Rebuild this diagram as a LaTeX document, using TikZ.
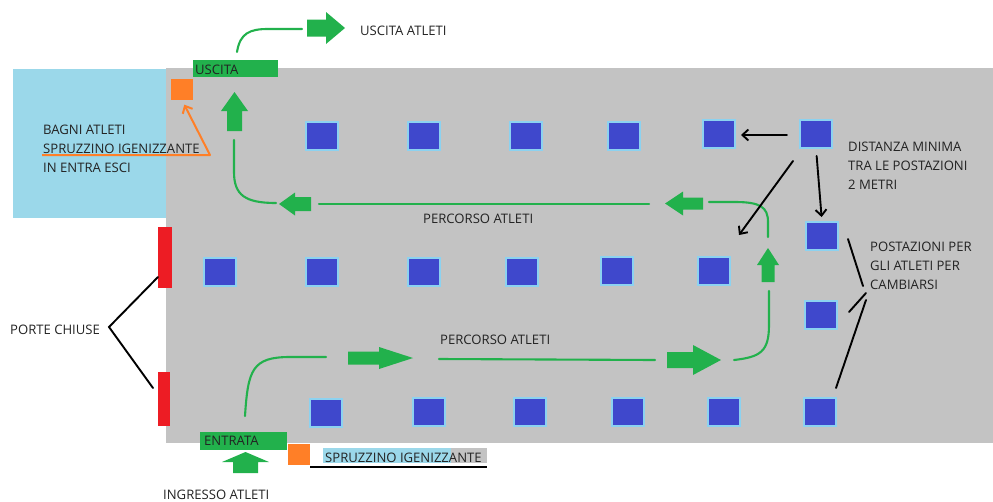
\documentclass[tikz,border=0pt]{standalone}
\usepackage{fontspec}
\setmainfont{Open Sans}
\usetikzlibrary{arrows.meta}
\definecolor{hall}{RGB}{195,195,195}
\definecolor{bath}{RGB}{155,216,234}
\definecolor{gr}{RGB}{34,177,76}
\definecolor{st}{RGB}{63,72,204}
\definecolor{stb}{RGB}{140,210,240}
\definecolor{rd}{RGB}{237,28,36}
\definecolor{og}{RGB}{255,127,39}
\definecolor{tx}{RGB}{35,35,35}
\tikzset{
  station/.style={fill=st,draw=stb,line width=2pt,minimum width=32pt,minimum height=28pt,inner sep=0,outer sep=0},
  lbl/.style={text=tx,font=\fontsize{13.1pt}{19pt}\selectfont,inner sep=0,align=left},
  path/.style={gr,line width=2.1pt,line cap=round},
  blk/.style={black,line width=1.9pt,line cap=round},
  blka/.style={blk,-{Straight Barb[length=6pt,width=11pt,line width=1.9pt]}},
}
% #1 name, #2 tail point, #3 rotation, #4 length, #5 tail width, #6 head width, #7 head length
\newcommand{\blockarrow}[7]{%
  \fill[gr,line join=round,shift={(#2)},rotate=#3]
    (0,-#5/2) -- (#4-#7,-#5/2) -- (#4-#7,-#6/2) -- (#4,0) -- (#4-#7,#6/2) -- (#4-#7,#5/2) -- (0,#5/2) -- cycle;
  \coordinate (#1) at (#2);}
\begin{document}
\begin{tikzpicture}[x=1pt,y=-1pt]
\useasboundingbox (0,0) rectangle (993,501);
% areas
\node[fill=bath,inner sep=0,minimum width=153pt,minimum height=149pt] (bath) at (89.5,143.5) {};
\node[fill=hall,inner sep=0,minimum width=827pt,minimum height=375pt] (hall) at (579.5,255.5) {};
\node[fill=rd,inner sep=0,minimum width=14pt,minimum height=61pt] (door1) at (165,257.5) {};
\node[fill=rd,inner sep=0,minimum width=12pt,minimum height=54pt] (door2) at (164,399) {};
\node[fill=gr,inner sep=0,minimum width=85pt,minimum height=17pt] (exitbar) at (235.5,68.5) {};
\node[fill=gr,inner sep=0,minimum width=87pt,minimum height=18pt] (inbar) at (243.5,441) {};
\node[fill=og,inner sep=0,minimum width=22pt,minimum height=21pt] (spray1) at (182,89.5) {};
\node[fill=og,inner sep=0,minimum width=22pt,minimum height=21pt] (spray2) at (299,454.5) {};
% spray label background
\node[fill=bath,inner sep=0,minimum width=128pt,minimum height=15pt] (sbg1) at (387,455.5) {};
\node[fill=hall,inner sep=0,minimum width=36pt,minimum height=15pt] (sbg2) at (469,455.5) {};
% stations
\foreach \n/\x/\y in {a1/322/136,a2/424/136,a3/526/136,a4/624/136,a5/719/134,a6/816/134,
  b1/220/272,b2/322/272,b3/424/272,b4/522/272,b5/617/271,b6/714/271,
  c1/822/236,c2/821/315,
  d1/326/413,d2/429/412,d3/530/412,d4/628/412,d5/724/412,d6/820/412}
  \node[station] (\n) at (\x,\y) {};
% block arrows (y axis is flipped: rotate=0 right, 90 up, 180 left)
\blockarrow{ar1}{307,28}{0}{38}{17}{32}{19}
\blockarrow{ar2}{234.5,131}{90}{39}{15}{27}{19}
\blockarrow{ar3}{311,204}{180}{32}{14}{23}{16}
\blockarrow{ar4}{703,203.5}{180}{38}{12}{24}{18}
\blockarrow{ar5}{768,282}{90}{34}{13}{22}{17}
\blockarrow{ar6}{667,360}{0}{54}{16}{30}{28}
\blockarrow{ar7}{348,358}{0}{65}{13}{22}{34}
\blockarrow{ar8}{245.5,473}{90}{21}{25}{47}{10}
% green routes
\coordinate (p1s) at (237,52); \coordinate (p1e) at (302,29);
\coordinate (p2s) at (276,203); \coordinate (p2e) at (234,140);
\coordinate (p3s) at (649,204); \coordinate (p3e) at (319,204);
\coordinate (p4s) at (768,237); \coordinate (p4e) at (709,202);
\coordinate (p5s) at (245,416); \coordinate (p5e) at (326,357);
\coordinate (p6s) at (439,359); \coordinate (p6e) at (655,360);
\coordinate (p7s) at (734,360); \coordinate (p7e) at (769,291);
\draw[path] (p1s) .. controls (240,33) and (250,29) .. (268,29) -- (p1e);
\draw[path] (p2s) .. controls (245,203) and (234,195) .. (234,172) -- (p2e);
\draw[path] (p3s) -- (p3e);
\draw[path] (p4s) -- (768,222) .. controls (768,207) and (760,202) .. (735,202) -- (p4e);
\draw[path] (p5s) .. controls (248,370) and (252,357) .. (290,357) -- (p5e);
\draw[path] (p6s) -- (p6e);
\draw[path] (p7s) .. controls (760,357) and (769,352) .. (769,325) -- (p7e);
% black arrows and lines
\coordinate (free1) at (739,235);
\coordinate (free2) at (793,161);
\coordinate (j1) at (848,239); \coordinate (j2) at (863,286);
\coordinate (j3) at (849,312); \coordinate (j4) at (866,293);
\coordinate (j5) at (866,300); \coordinate (j6) at (836,388);
\coordinate (closed) at (109,327);
\coordinate (d1e) at (158,277); \coordinate (d2e) at (153,388);
\draw[blka,shorten <=10pt,shorten >=6pt] (a6) ++(-19,1) coordinate (a6w) -- (a5.east |- a6w);
\draw[blka] (free2) -- (free1);
\draw[blka,shorten <=8pt,shorten >=5pt] (a6.south) -- (c1.north);
\draw[blk] (j1) -- (j2);
\draw[blk] (j3) -- (j4);
\draw[blk] (j5) -- (j6);
\draw[blk] (d1e) -- (closed) -- (d2e);
% orange pointer
\coordinate (o1) at (42,155); \coordinate (o2) at (210,155);
\draw[og,line width=2pt,line join=round,-{Straight Barb[length=6pt,width=11pt,line width=2pt]},shorten >=5pt] (o1) -- (o2) -- (spray1.south);
% spray underline
\coordinate (u2) at (487,467);
\draw[black,line width=2pt] (spray2.south east |- u2) -- (u2);
% labels
\node[lbl,anchor=base west] (tusc) at (195,74) {USCITA};
\node[lbl,anchor=base west] (tent) at (204,445) {ENTRATA};
\node[lbl,anchor=base west] (tout) at (360,35) {USCITA ATLETI};
\node[lbl,anchor=north west] (tbag) at (43,125) {BAGNI ATLETI\\SPRUZZINO IGENIZZANTE\\IN ENTRA ESCI};
\node[lbl,anchor=base west] (tp1) at (423,223) {PERCORSO ATLETI};
\node[lbl,anchor=base west] (tp2) at (440,344) {PERCORSO ATLETI};
\node[lbl,anchor=base west] (tpc) at (10,334) {PORTE CHIUSE};
\node[lbl,anchor=north west] (tdist) at (848,142) {DISTANZA MINIMA\\TRA LE POSTAZIONI\\2 METRI};
\node[lbl,anchor=north west] (tpost) at (870,242) {POSTAZIONI PER\\GLI ATLETI PER\\CAMBIARSI};
\node[lbl,anchor=base west] (tspr) at (325,462) {SPRUZZINO IGENIZZANTE};
\node[lbl,anchor=base west] (ting) at (163,499) {INGRESSO ATLETI};
\end{tikzpicture}
\end{document}
